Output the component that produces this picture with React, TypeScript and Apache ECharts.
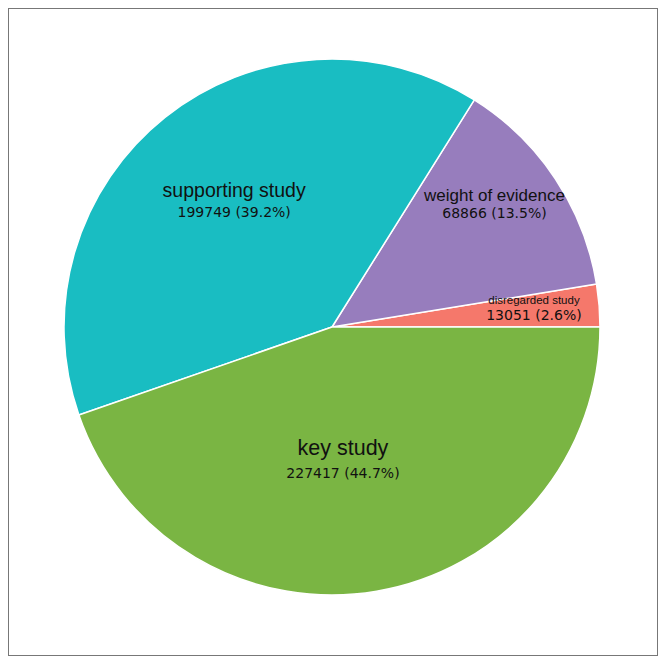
import React, { useEffect, useRef } from "react";
import * as echarts from "echarts";

const categories = ["disregarded study", "weight of evidence", "supporting study", "key study"];
const values = [13051, 68866, 199749, 227417];
const colors = ["#f5786b", "#977dbd", "#19bdc2", "#7ab543"];

// label styling / placement (not data)
const nameFontSizes = [11.5, 17, 19.5, 21.5];
const lineHeights = [15, 18, 22, 25];
const labelRadiusFrac = [0.757, 0.76, 0.595, 0.5];
const labelAngleShift = [0.9, 3.5, -0.7, -4.9];

const CX = 323;
const CY = 318;
const R = 268;

export default function App() {
  const ref = useRef<HTMLDivElement>(null);
  useEffect(() => {
    if (!ref.current) return;
    const chart = echarts.init(ref.current, undefined, { renderer: "svg" });
    const total = values.reduce((a, b) => a + b, 0);
    const midAngles: number[] = [];
    let cum = 0;
    values.forEach((v) => {
      midAngles.push(((cum + v / 2) / total) * 360);
      cum += v;
    });
    const data = categories.map((name, i) => ({
      name,
      value: values[i],
      itemStyle: { color: colors[i] },
      label: {
        rich: {
          n: {
            fontFamily: "Liberation Sans, Arial, sans-serif",
            fontSize: nameFontSizes[i],
            color: "#111",
            lineHeight: lineHeights[i],
            align: "center",
          },
          v: {
            fontFamily: "DejaVu Sans, sans-serif",
            fontSize: 14,
            color: "#111",
            lineHeight: lineHeights[i],
            align: "center",
          },
        },
      },
    }));
    chart.setOption({
      animation: false,
      series: [
        {
          type: "pie",
          center: [CX, CY],
          radius: [0, R],
          startAngle: 0,
          clockwise: false,
          silent: true,
          emphasis: { disabled: true },
          itemStyle: { borderColor: "#ffffff", borderWidth: 1.5 },
          label: {
            show: true,
            position: "inside",
            formatter: (p: any) =>
              `{n|${p.name}}\n{v|${p.value} (${((p.value / total) * 100).toFixed(1)}%)}`,
          },
          labelLine: { show: false },
          labelLayout: (params: any) => {
            const i = params.dataIndex;
            const a = ((midAngles[i] + labelAngleShift[i]) * Math.PI) / 180;
            const r = labelRadiusFrac[i] * R;
            return {
              x: CX + r * Math.cos(a),
              y: CY - r * Math.sin(a),
              align: "center",
              verticalAlign: "middle",
            };
          },
          data,
        },
      ],
    });
    return () => chart.dispose();
  }, []);
  return (
    <div
      style={{
        width: 650,
        height: 648,
        border: "1px solid #777",
        boxSizing: "border-box",
        background: "#fff",
      }}
    >
      <div ref={ref} style={{ width: 648, height: 646 }} />
    </div>
  );
}
